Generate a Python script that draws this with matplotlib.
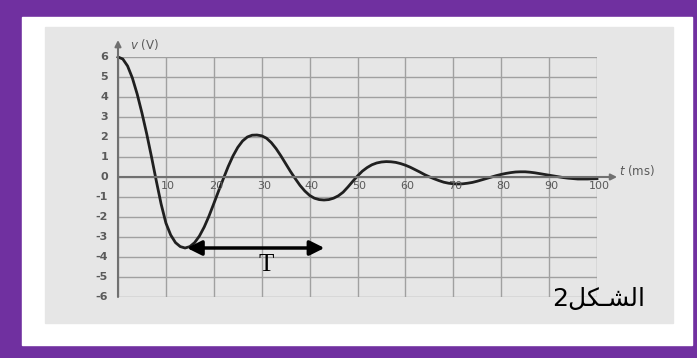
import matplotlib.pyplot as plt
from matplotlib.patches import Rectangle

# curve, t in ms, v in volts
t_ms = list(range(0, 101))
v_volts = [6.00, 5.90, 5.55, 4.95, 4.15, 3.20, 2.15, 1.00, -0.20, -1.35,
           -2.30, -2.90, -3.28, -3.48, -3.55, -3.48, -3.28, -2.95, -2.50, -1.95,
           -1.33, -0.70, -0.08, 0.52, 1.05, 1.48, 1.80, 2.00, 2.09, 2.10,
           2.06, 1.94, 1.72, 1.42, 1.06, 0.67, 0.28, -0.08, -0.42, -0.70,
           -0.92, -1.06, -1.13, -1.15, -1.13, -1.06, -0.94, -0.76, -0.50, -0.22,
           0.05, 0.29, 0.47, 0.61, 0.70, 0.75, 0.77, 0.76, 0.73, 0.67,
           0.59, 0.49, 0.37, 0.25, 0.12, 0.01, -0.09, -0.18, -0.26, -0.31,
           -0.34, -0.35, -0.34, -0.31, -0.27, -0.21, -0.14, -0.07, 0.00, 0.07,
           0.13, 0.18, 0.22, 0.25, 0.26, 0.26, 0.24, 0.21, 0.17, 0.13,
           0.09, 0.05, 0.01, -0.03, -0.06, -0.08, -0.10, -0.10, -0.10, -0.09,
           -0.08]

x_ticks = list(range(10, 101, 10))
y_ticks = list(range(-6, 7))
period_start = 14.4
period_end = 43.1
period_level = -3.55

W, H = 697, 358
fig = plt.figure(figsize=(W / 100, H / 100), dpi=100, facecolor='#7030a0')

def px_rect(x0, y0, x1, y1, color):
    fig.patches.append(Rectangle((x0 / W, 1 - y1 / H), (x1 - x0) / W, (y1 - y0) / H,
                                 transform=fig.transFigure, color=color, zorder=-10))

px_rect(22, 17, 692, 345, 'white')
px_rect(45, 27, 673, 323, '#e6e6e6')

ax = fig.add_axes([118 / W, 1 - 297 / H, 479 / W, 240 / H])
ax.set_zorder(5)
ax.set_facecolor('none')
ax.set_xlim(0, 100)
ax.set_ylim(-6, 6)
ax.set_xticks(range(0, 101, 10))
ax.set_yticks(y_ticks)
ax.tick_params(length=0, labelbottom=False, labelleft=False)
for s in ax.spines.values():
    s.set_visible(False)
ax.grid(True, color='#a0a0a0', lw=1)

# axes with arrows
ax.annotate('', xy=(104.2, 0), xytext=(0, 0),
            arrowprops=dict(arrowstyle='-|>', color='#707070', lw=1.5,
                            mutation_scale=9, shrinkA=0, shrinkB=0),
            annotation_clip=False)
ax.annotate('', xy=(0, 6.85), xytext=(0, -6),
            arrowprops=dict(arrowstyle='-|>', color='#707070', lw=1.5,
                            mutation_scale=9, shrinkA=0, shrinkB=0),
            annotation_clip=False)

for v in y_ticks:
    ax.annotate(str(v), xy=(0, v), xytext=(-10, 0), textcoords='offset pixels',
                ha='right', va='center', fontsize=8, color='#5a5a5a',
                fontweight='bold', annotation_clip=False)
for t in x_ticks:
    ax.annotate(str(t), xy=(t, 0), xytext=(2, -9), textcoords='offset pixels',
                ha='center', va='center', fontsize=8, color='#5a5a5a',
                annotation_clip=False)

ax.text(2.5, 6.65, r'$v$ (V)', fontsize=8.5, color='#5a5a5a', va='center', ha='left',
        clip_on=False)
ax.text(104.5, 0.35, r'$t$ (ms)', fontsize=8.5, color='#5a5a5a', va='center', ha='left',
        clip_on=False)

ax.plot(t_ms, v_volts, color='#202020', lw=2, clip_on=False)

# period arrow
ax.annotate('', xy=(period_end, period_level), xytext=(period_start, period_level),
            arrowprops=dict(arrowstyle='<|-|>', color='black', lw=2.5,
                            mutation_scale=22, shrinkA=0, shrinkB=0))
ax.text(31, -4.4, 'T', fontsize=18, family='Liberation Serif', ha='center', va='center')

# "الشكل2" in visual order with presentation forms
ax.text(645 / W, 1 - 306 / H, '2\ufede\ufedc\u0640\ufeb8\ufedf\ufe8d',
        transform=fig.transFigure, fontsize=18, family='DejaVu Sans',
        ha='right', va='baseline')

fig.savefig('out.png', dpi=100, facecolor=fig.get_facecolor())
